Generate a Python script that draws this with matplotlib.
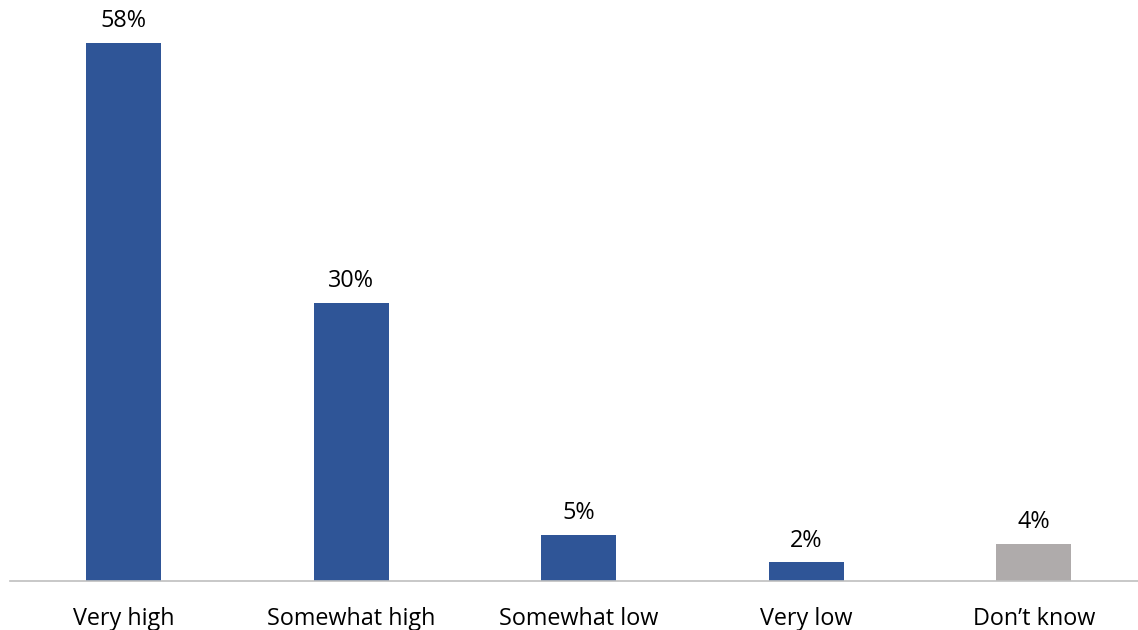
import matplotlib
matplotlib.use("Agg")
from matplotlib import pyplot as plt

#   chart data
categories = ["Very high", "Somewhat high", "Somewhat low", "Very low", "Don\u2019t know"]
values = [58, 30, 5, 2, 4]
colors = ["#2F5597", "#2F5597", "#2F5597", "#2F5597", "#AFABAB"]

plt.rcParams['font.family'] = ['Open Sans', 'DejaVu Sans']

fig = plt.figure(figsize=(11.38, 6.3), dpi=100)
ax = fig.add_axes([10 / 1138, 49 / 630, 1137.5 / 1138, 557 / 630])

x = range(len(categories))
bars = ax.bar(x, values, width=0.33, color=colors)

#   value labels above bars
for xi, v in zip(x, values):
    ax.annotate(str(v) + '%', xy=(xi, v), xytext=(0, 7), textcoords='offset points',
                ha='center', va='bottom', fontsize=16.8, color='#000000')

ax.set_xlim(-0.5, 4.5)
ax.set_ylim(0, 60)
ax.set_xticks(list(x))
ax.set_xticklabels(categories, fontsize=16.8)
ax.tick_params(axis='x', length=0, pad=19)
ax.set_yticks([])

for side in ['top', 'right', 'left']:
    ax.spines[side].set_visible(False)
ax.spines['bottom'].set_color('#BFBFBF')
ax.spines['bottom'].set_linewidth(1.2)

plt.savefig('out.png', dpi=100)
